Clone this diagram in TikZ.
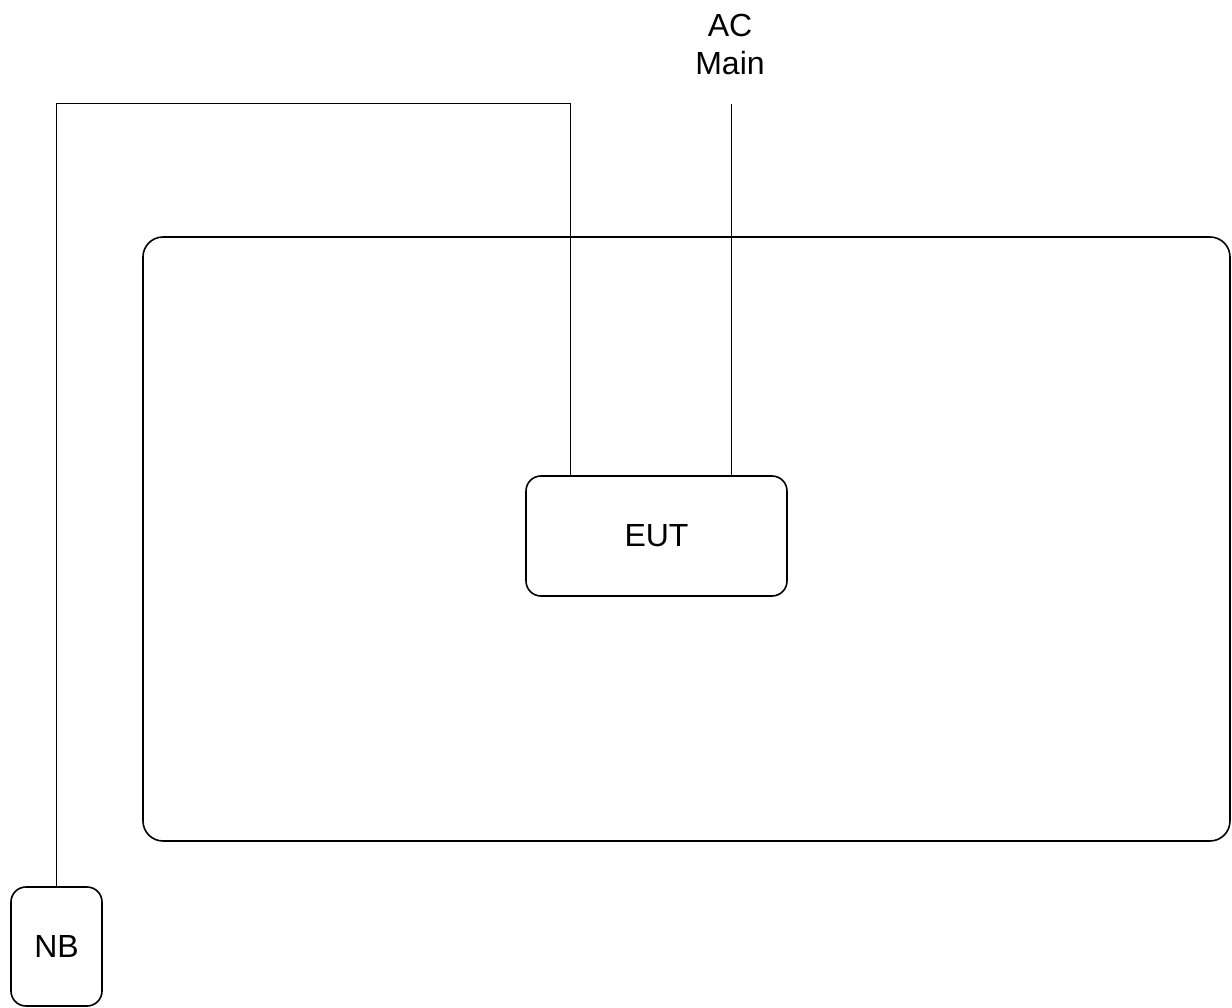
\documentclass[tikz,border=0pt]{standalone}
\usepackage{fontspec}
\setmainfont{Liberation Sans}
\usepackage{tikz}

\begin{document}
\begin{tikzpicture}[x=1pt,y=-1pt,every node/.style={font=\fontsize{32}{38}\selectfont},
  box/.style n args={3}{draw,line width=1.6pt,rounded corners=#3,minimum width=#1pt,minimum height=#2pt,rectangle,inner sep=0pt},
  wire/.style={line width=0.8pt}]
\useasboundingbox (0,0) rectangle (1232,1008);
\node[box={1087}{604}{20pt}](room) at(686.5,539) {};
\node[box={261}{120}{15pt}](eut) at(656.5,536) {EUT};
\node[box={91}{119}{15pt}](nb) at(56.5,946.5) {NB};
\node[align=center,inner sep=0pt](ac) at(730,44) {AC\\Main};
\coordinate (actop) at (731,104);
\coordinate (nbtop) at (570,103);
\draw[wire] (eut.north -| actop) -- (actop);
\draw[wire] (eut.north -| nbtop) -- (nbtop) -| (nb.north);
\end{tikzpicture}
\end{document}
